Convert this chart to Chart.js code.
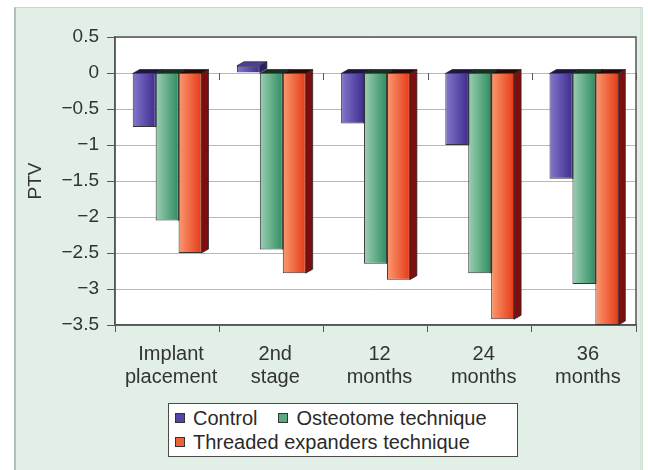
<!DOCTYPE html>
<html>
<head>
<meta charset="utf-8">
<script src="https://cdn.jsdelivr.net/npm/chart.js@4.4.0/dist/chart.umd.min.js"></script>
<style>
  body { margin: 0; background: #fff; font-family: "Liberation Sans", Arial, sans-serif; }
  #wrap { position: relative; width: 648px; height: 470px; overflow: hidden; }
  #panel { position: absolute; left: 14px; top: 7px; width: 624px; height: 470px;
           background: #e1efe6; border-left: 2px solid #aec2b4; border-top: 1px solid #c8d8cd;
           border-right: 3px solid #d4e5da; }
  #chart { position: absolute; left: 0; top: 0; }
  #legend { position: absolute; left: 168px; top: 403px; width: 350px; height: 54px;
            background: #fff; border: 1px solid #4a4a4a; box-sizing: border-box;
            display: flex; flex-wrap: wrap; align-content: flex-start;
            padding: 2px 0 0 6px; }
  .item { display: flex; align-items: center; height: 24px; margin-right: 21px;
          font-size: 20px; color: #2a2a2a; white-space: nowrap; }
  .box { width: 8px; height: 8px; border: 1px solid #333; margin-right: 8px; }
</style>
</head>
<body>
<div id="wrap">
  <div id="panel"></div>
  <canvas id="chart" width="648" height="470"></canvas>
  <div id="legend"></div>
</div>
<script>
const categories = [['Implant', 'placement'], ['2nd', 'stage'], ['12', 'months'], ['24', 'months'], ['36', 'months']];
const seriesNames = ['Control', 'Osteotome technique', 'Threaded expanders technique'];
const control = [-0.75, 0.1, -0.7, -1.0, -1.47];
const osteotome = [-2.05, -2.45, -2.65, -2.78, -2.93];
const threaded = [-2.5, -2.78, -2.87, -3.42, -3.5];
const yTicks = [0.5, 0, -0.5, -1, -1.5, -2, -2.5, -3, -3.5];

// light / dark front, side face, top face (above and below zero), legend swatch
const looks = [
  { light: '#8477cc', dark: '#3d2d8e', side: '#2c1f6e', topUp: '#4d3ea0', topDown: '#1e1640', swatch: '#5246a8' },
  { light: '#9ccfb4', dark: '#2f8d5f', side: '#1e5c3c', topUp: '#4fa57c', topDown: '#15301f', swatch: '#58a882' },
  { light: '#fa9a70', dark: '#e63a18', side: '#7e0d0d', topUp: '#f06a40', topDown: '#2a0a06', swatch: '#ef6238' }
];
const DX = 7, DY = 4;

const legend = document.getElementById('legend');
seriesNames.forEach((name, i) => {
  const item = document.createElement('div');
  item.className = 'item';
  item.innerHTML = '<span class="box" style="background:' + looks[i].swatch + '"></span>' + name;
  legend.appendChild(item);
});

function face(ctx, pts, fill) {
  ctx.beginPath();
  ctx.moveTo(pts[0][0], pts[0][1]);
  for (let i = 1; i < pts.length; i++) ctx.lineTo(pts[i][0], pts[i][1]);
  ctx.closePath();
  ctx.fillStyle = fill;
  ctx.fill();
  ctx.strokeStyle = '#2b2b2b';
  ctx.lineWidth = 0.8;
  ctx.stroke();
}

const bars3d = {
  id: 'bars3d',
  beforeDraw(chart) {
    const { ctx, chartArea: a } = chart;
    ctx.save();
    ctx.fillStyle = '#fff';
    ctx.fillRect(a.left, a.top, a.width, a.height);
    ctx.restore();
  },
  beforeDatasetsDraw(chart) {
    const { ctx, chartArea: a } = chart;
    const zero = chart.scales.y.getPixelForValue(0);
    ctx.save();
    ctx.strokeStyle = '#555';
    ctx.lineWidth = 1.5;
    ctx.strokeRect(a.left, a.top, a.width, a.height);
    // little category ticks on the zero line
    const step = a.width / categories.length;
    ctx.lineWidth = 1;
    for (let i = 1; i <= categories.length; i++) {
      const px = Math.round(a.left + i * step) + 0.5;
      ctx.beginPath();
      ctx.moveTo(px, zero);
      ctx.lineTo(px, zero + 7);
      ctx.stroke();
    }
    chart.data.datasets.forEach((ds, d) => {
      const look = looks[d];
      chart.getDatasetMeta(d).data.forEach((bar, i) => {
        const l = bar.x - bar.width / 2, r = bar.x + bar.width / 2;
        const top = Math.min(bar.y, bar.base), bottom = Math.max(bar.y, bar.base);
        face(ctx, [[r, top], [r + DX, top - DY], [r + DX, bottom - DY], [r, bottom]], look.side);
        face(ctx, [[l, top], [l + DX, top - DY], [r + DX, top - DY], [r, top]],
             ds.data[i] >= 0 ? look.topUp : look.topDown);
        const g = ctx.createLinearGradient(l, 0, r, 0);
        g.addColorStop(0, look.light);
        g.addColorStop(1, look.dark);
        bar.options.backgroundColor = g;
      });
    });
    ctx.restore();
  }
};

new Chart(document.getElementById('chart'), {
  type: 'bar',
  data: {
    labels: categories,
    datasets: [
      { label: seriesNames[0], data: control },
      { label: seriesNames[1], data: osteotome },
      { label: seriesNames[2], data: threaded }
    ].map((ds, i) => Object.assign(ds, {
      // scriptable so every bar gets its own options object (own gradient)
      backgroundColor: () => looks[i].swatch,
      borderColor: '#333',
      borderWidth: 1,
      categoryPercentage: 0.66,
      barPercentage: 1
    }))
  },
  options: {
    responsive: false,
    animation: false,
    layout: { padding: { top: 37, right: 12, left: 0, bottom: 0 } },
    plugins: { legend: { display: false }, tooltip: { enabled: false } },
    scales: {
      x: {
        afterFit: s => { s.height = 145; },
        grid: { drawOnChartArea: false, drawTicks: true, tickLength: 7, tickColor: '#555', offset: true },
        border: { color: '#555', width: 1.5 },
        ticks: { color: '#333', font: { size: 20, family: 'Liberation Sans', lineHeight: 1.15 },
                 padding: 11, maxRotation: 0, autoSkip: false, labelOffset: 4 }
      },
      y: {
        min: -3.5,
        max: 0.5,
        afterFit: s => { s.width = 115; },
        afterBuildTicks: s => { s.ticks = yTicks.map(v => ({ value: v })); },
        grid: { color: '#b8b8b8', lineWidth: 1, tickColor: '#555', tickLength: 8 },
        border: { color: '#555', width: 1.5 },
        ticks: { color: '#333', font: { size: 19, family: 'Liberation Sans' }, padding: 8,
                 callback: v => String(v).replace('-', '\u2212') },
        title: { display: true, text: 'PTV', color: '#333',
                 font: { size: 19, family: 'Liberation Sans' }, padding: { top: 24, bottom: 0 } }
      }
    }
  },
  plugins: [bars3d]
});
</script>
</body>
</html>
